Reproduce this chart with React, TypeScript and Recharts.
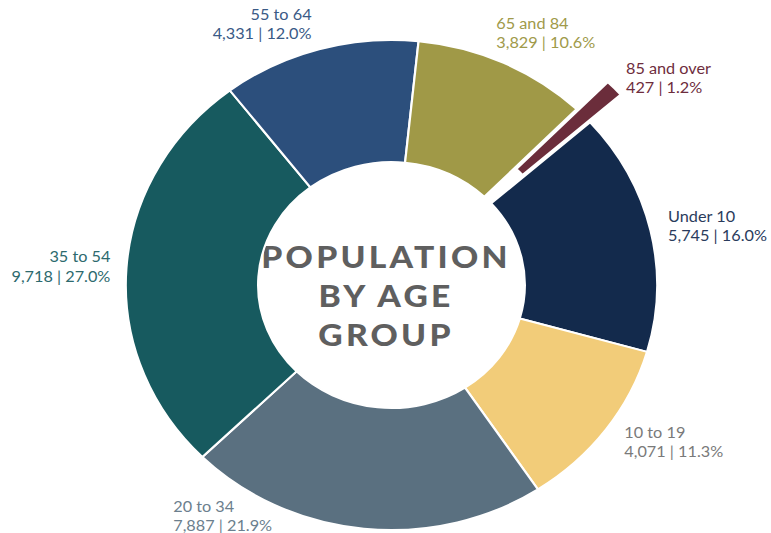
import { PieChart, Pie, Cell } from "recharts"

const CATEGORIES = ["Under 10", "10 to 19", "20 to 34", "35 to 54", "55 to 64", "65 and 84", "85 and over"]
const POPULATION = [5745, 4071, 7887, 9718, 4331, 3829, 427]
const TITLE_LINES = ["POPULATION", "BY AGE", "GROUP"]

const SLICE_COLORS = ["#132a4c", "#f2cc79", "#5a7080", "#175a5f", "#2c4f7c", "#a09947", "#6b2d3b"]
const LABEL_COLORS = ["#2a3b5c", "#7a7a7a", "#6c7f8e", "#2d6a6e", "#3a5a86", "#a09a4a", "#6e2d3d"]

const W = 771
const H = 533
// the reference is a little wider than tall, so the ring is drawn narrower and stretched
const STRETCH = 1.0844
const INNER_W = Math.round(W / STRETCH)
const CX = 356
const CY = 280
const OUTER = 245
const INNER = 123
const START = 41.6
const EXPLODE_INDEX = 6
const EXPLODE = 40
const RAD = Math.PI / 180

const data = CATEGORIES.map((name, i) => ({ name, value: POPULATION[i] }))
const total = POPULATION.reduce((a, b) => a + b, 0)
const before = POPULATION.slice(0, EXPLODE_INDEX).reduce((a, b) => a + b, 0)
const explodeMid = START - ((before + POPULATION[EXPLODE_INDEX] / 2) / total) * 360
const explodeDx = EXPLODE * Math.cos(explodeMid * RAD)
const explodeDy = -EXPLODE * Math.sin(explodeMid * RAD)

const fmt = (n: number) => String(n).replace(/\B(?=(\d{3})+(?!\d))/g, ",")

// small turns (degrees, counter-clockwise) so labels sit where the reference has them
const LABEL_TURN: Record<string, number> = { "65 and 84": 4, "20 to 34": -35 }

function renderLabel(p: any) {
  const { cx, cy, midAngle, outerRadius, index, value, percent } = p
  const name = CATEGORIES[index]
  const angle = midAngle + (LABEL_TURN[name] || 0)
  let r = outerRadius + 14 + 12 * Math.abs(Math.sin(midAngle * RAD))
  if (index === EXPLODE_INDEX) r += EXPLODE * 0.8
  if (name === "20 to 34") r = outerRadius + 62
  const x = cx + r * Math.cos(angle * RAD)
  const y = cy - r * Math.sin(angle * RAD)
  const anchor = name === "20 to 34" || x > cx ? "start" : "end"
  return (
    <text
      x={x}
      y={y}
      textAnchor={anchor}
      fill={LABEL_COLORS[index]}
      fontFamily="Lato, sans-serif"
      fontWeight={400}
      fontSize={15}
    >
      <tspan x={x} y={y - 4.5}>{name}</tspan>
      <tspan x={x} y={y + 14.5}>
        {fmt(value)} | {(percent * 100).toFixed(1)}%
      </tspan>
    </text>
  )
}

export default function App() {
  return (
    <div style={{ position: "absolute", left: 0, top: 0, width: W, height: H, background: "#fff", overflow: "hidden" }}>
      <div style={{ width: INNER_W, height: H, transform: `scaleX(${W / INNER_W})`, transformOrigin: "0 0" }}>
        <PieChart width={INNER_W} height={H}>
          <Pie
            data={data}
            dataKey="value"
            nameKey="name"
            cx={CX}
            cy={CY}
            innerRadius={INNER}
            outerRadius={OUTER}
            startAngle={START}
            endAngle={START - 360}
            stroke="#fff"
            strokeWidth={2}
            label={renderLabel}
            labelLine={false}
            isAnimationActive={false}
          >
            {data.map((_, i) => (
              <Cell
                key={i}
                fill={i === EXPLODE_INDEX ? "transparent" : SLICE_COLORS[i]}
                stroke={i === EXPLODE_INDEX ? "none" : "#fff"}
              />
            ))}
          </Pie>
          <Pie
            data={data}
            dataKey="value"
            nameKey="name"
            cx={CX + explodeDx}
            cy={CY + explodeDy}
            innerRadius={INNER}
            outerRadius={OUTER}
            startAngle={START}
            endAngle={START - 360}
            isAnimationActive={false}
          >
            {data.map((_, i) => (
              <Cell
                key={i}
                fill={i === EXPLODE_INDEX ? SLICE_COLORS[i] : "transparent"}
                stroke={i === EXPLODE_INDEX ? "#fff" : "none"}
                strokeWidth={3}
              />
            ))}
          </Pie>
          {/* centre title, drawn in the same stretched space as the ring */}
          <text
            textAnchor="middle"
            fill="#5f5f5f"
            fontFamily="Lato, sans-serif"
            fontWeight={900}
            fontSize={31}
            letterSpacing={3}
          >
            {TITLE_LINES.map((line, i) => (
              <tspan key={line} x={CX} y={CY - 12 + i * 39}>
                {line}
              </tspan>
            ))}
          </text>
        </PieChart>
      </div>
    </div>
  )
}
